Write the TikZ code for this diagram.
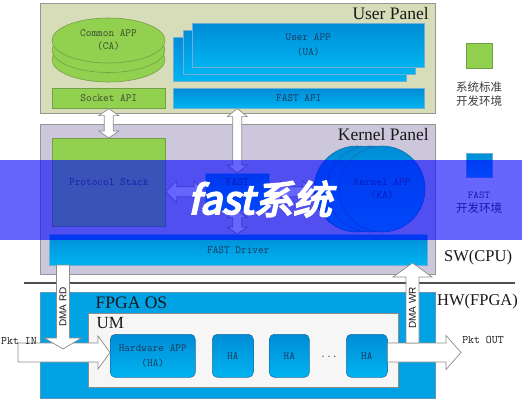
\documentclass[tikz,border=0pt]{standalone}
\usepackage{fontspec}
\setmainfont{Liberation Serif}
\setsansfont{Liberation Sans}
\newfontfamily\cjk{Noto Sans CJK SC}
\newfontfamily\bannerfont[FakeBold=5,FakeSlant=0.22]{Noto Sans CJK SC}
\usetikzlibrary{shapes.geometric,calc}

\definecolor{userbg}{RGB}{215,221,184}
\definecolor{kernelbg}{RGB}{205,199,220}
\definecolor{panelline}{RGB}{150,150,150}
\definecolor{appgreen}{RGB}{146,208,80}
\definecolor{greenline}{RGB}{115,160,70}
\definecolor{greentext}{RGB}{60,75,45}
\definecolor{bluetop}{RGB}{0,140,215}
\definecolor{bluebot}{RGB}{0,180,240}
\definecolor{blueline}{RGB}{110,175,215}
\definecolor{bluetext}{RGB}{30,55,90}
\definecolor{haline}{RGB}{30,110,170}
\definecolor{fpgablue}{RGB}{0,162,228}
\definecolor{fpgaline}{RGB}{90,150,190}
\definecolor{umfill}{RGB}{246,246,246}
\definecolor{arrowline}{RGB}{140,140,140}
\definecolor{titletext}{RGB}{25,25,25}
\definecolor{legendtext}{RGB}{60,60,60}

\newcommand{\vdblock}[5]{% top, bottom, shaft half, head half, head length
\draw[blockarrow] (#1) -- ([shift={(#4,#5)}]#1) -- ([shift={(#3,#5)}]#1) -- ([shift={(#3,-#5)}]#2) -- ([shift={(#4,-#5)}]#2) -- (#2) -- ([shift={(-#4,-#5)}]#2) -- ([shift={(-#3,-#5)}]#2) -- ([shift={(-#3,#5)}]#1) -- ([shift={(-#4,#5)}]#1) -- cycle;}
\newcommand{\hdblock}[5]{% left, right, shaft half, head half, head length
\draw[blockarrow] (#1) -- ([shift={(#5,-#4)}]#1) -- ([shift={(#5,-#3)}]#1) -- ([shift={(-#5,-#3)}]#2) -- ([shift={(-#5,-#4)}]#2) -- (#2) -- ([shift={(-#5,#4)}]#2) -- ([shift={(-#5,#3)}]#2) -- ([shift={(#5,#3)}]#1) -- ([shift={(#5,#4)}]#1) -- cycle;}
\newcommand{\downblock}[5]{% tail, tip
\draw[blockarrow] ([shift={(-#3,0)}]#1) -- ([shift={(#3,0)}]#1) -- ([shift={(#3,-#5)}]#2) -- ([shift={(#4,-#5)}]#2) -- (#2) -- ([shift={(-#4,-#5)}]#2) -- ([shift={(-#3,-#5)}]#2) -- cycle;}
\newcommand{\upblock}[5]{% tail, tip
\draw[blockarrow] ([shift={(-#3,0)}]#1) -- ([shift={(#3,0)}]#1) -- ([shift={(#3,#5)}]#2) -- ([shift={(#4,#5)}]#2) -- (#2) -- ([shift={(-#4,#5)}]#2) -- ([shift={(-#3,#5)}]#2) -- cycle;}
\newcommand{\rightblock}[5]{% tail, tip
\draw[blockarrow] ([shift={(0,-#3)}]#1) -- ([shift={(-#5,-#3)}]#2) -- ([shift={(-#5,-#4)}]#2) -- (#2) -- ([shift={(-#5,#4)}]#2) -- ([shift={(-#5,#3)}]#2) -- ([shift={(0,#3)}]#1) -- cycle;}

\tikzset{
  panel/.style={draw=panelline, line width=0.8pt, inner sep=0pt, anchor=north west},
  gbox/.style={draw=greenline, fill=appgreen, line width=0.6pt, inner sep=0pt, anchor=north west,
    font=\fontsize{11}{13}\ttfamily, text=greentext, align=center},
  bbox/.style={draw=blueline, top color=bluetop, bottom color=bluebot, line width=0.6pt, inner sep=0pt,
    anchor=north west, font=\fontsize{11}{15}\ttfamily, text=bluetext, align=center},
  habox/.style={bbox, draw=haline, rounded corners=5pt, minimum height=43},
  blockarrow/.style={draw=arrowline, fill=white, line width=0.7pt, line join=miter},
  title/.style={font=\fontsize{17.5}{20}\selectfont, text=titletext, inner sep=0pt},
  side/.style={font=\fontsize{16.5}{18}\selectfont, text=titletext, inner sep=0pt, anchor=base west},
  small/.style={font=\fontsize{11.5}{13}\ttfamily, text=titletext, inner sep=0pt},
  legend/.style={font=\cjk\fontsize{11.5}{14}\selectfont, text=legendtext, inner sep=0pt},
  vlabel/.style={font=\sffamily\fontsize{10}{12}\selectfont, text=titletext, rotate=90, inner sep=0pt},
}

\begin{document}
\begin{tikzpicture}[x=1pt,y=-1pt]
\useasboundingbox (0,0) rectangle (522,400);
\fill[white] (0,0) rectangle (522,400);

% ---------------- User panel
\node[panel, fill=userbg, minimum width=395, minimum height=110] (user) at (40,3) {};
\node[title, anchor=base east] (usert) at (429,19.5) {User Panel};
\node[ellipse, draw=greenline, fill=appgreen, line width=0.6pt, minimum width=113, minimum height=45, inner sep=0pt] (ca3) at (108.5,59.5) {};
\node[ellipse, draw=greenline, fill=appgreen, line width=0.6pt, minimum width=113, minimum height=45, inner sep=0pt] (ca2) at (108.5,50) {};
\node[ellipse, draw=greenline, fill=appgreen, line width=0.6pt, minimum width=113, minimum height=45, inner sep=0pt,
  font=\fontsize{11}{13}\ttfamily, text=greentext, align=center] (ca) at (108.5,40.5) {Common APP\\(CA)};
\node[bbox, minimum width=233, minimum height=44] (ua3) at (173,37) {};
\node[bbox, minimum width=232, minimum height=44] (ua2) at (183,30) {};
\node[bbox, minimum width=232, minimum height=44] (ua) at (192,23) {User APP\\(UA)};
\node[gbox, minimum width=113, minimum height=20] (sock) at (52,88) {Socket API};
\node[bbox, minimum width=251, minimum height=20] (fastapi) at (173,88) {FAST API};

% legend
\node[draw=greenline, fill=appgreen, line width=0.6pt, minimum width=26, minimum height=25, inner sep=0pt, anchor=north west] (lg1) at (466,43) {};
\node[legend, align=center] (lg1t) at (479,94) {系统标准\\开发环境};
\node[bbox, minimum width=26, minimum height=24] (lg2) at (466,153) {};
\node[legend, align=center] (lg2t) at (479,203) {\fontsize{10.5}{14}\ttfamily FAST\\开发环境};

% ---------------- Kernel panel
\node[panel, fill=kernelbg, minimum width=395, minimum height=150] (kern) at (40,124) {};
\node[title, anchor=base east] (kernt) at (429,140.5) {Kernel Panel};
\node[gbox, minimum width=113, minimum height=88] (ps) at (52,138) {Protocol Stack};
\node[bbox, minimum width=64, minimum height=37] (fastmod) at (205,173) {};
\node[font=\fontsize{11}{13}\ttfamily, text=bluetext, inner sep=0pt] (fastmodt) at ([yshift=-9pt]fastmod.north) {FAST};
\node[circle, draw=haline, top color=bluetop, bottom color=bluebot, line width=0.6pt, minimum size=86, inner sep=0pt] (ka1) at (357,189) {};
\node[circle, draw=haline, top color=bluetop, bottom color=bluebot, line width=0.6pt, minimum size=86, inner sep=0pt] (ka2) at (370,189) {};
\node[circle, draw=haline, top color=bluetop, bottom color=bluebot, line width=0.6pt, minimum size=86, inner sep=0pt,
  font=\fontsize{11}{13}\ttfamily, text=bluetext, align=center] (ka) at (382,189) {Kernel APP\\(KA)};
\node[bbox, minimum width=378, minimum height=31] (drv) at (49,234) {FAST Driver};

% arrows in the software part
\coordinate (a1t) at (sock.south);
\coordinate (a1b) at (ps.north);
\vdblock{a1t}{a1b}{4.5}{10}{7}
\coordinate (a2t) at (fastmod.north |- fastapi.south);
\coordinate (a2b) at (fastmod.north);
\vdblock{a2t}{a2b}{4.5}{10}{8}
\coordinate (a3t) at (fastmod.south);
\coordinate (a3b) at (fastmod.south |- drv.north);
\vdblock{a3t}{a3b}{4.5}{10}{7}
\coordinate (h1l) at (ps.east |- fastmod.west);
\coordinate (h1r) at (fastmod.west);
\hdblock{h1l}{h1r}{5}{11}{11}
\coordinate (h2l) at (fastmod.east);
\coordinate (h2r) at (ka1.west |- fastmod.east);
\hdblock{h2l}{h2r}{5}{11}{11}

% separator and side labels
\draw[line width=1.1pt, draw={rgb,255:red,80;green,80;blue,80}] (24,283) -- (515,283);
\node[side] (sw) at (444,261.5) {SW(CPU)};
\node[side] (hw) at (437,305) {HW(FPGA)};

% ---------------- FPGA OS
\node[panel, draw=fpgaline, fill=fpgablue, minimum width=395, minimum height=106] (fpga) at (40,292) {};
\node[title, anchor=base west] (fpgat) at (95.5,308) {FPGA OS};
\node[panel, fill=umfill, draw=arrowline, minimum width=310, minimum height=74] (um) at (88,313) {};
\node[title, anchor=base west, font=\fontsize{17}{20}\selectfont] (umt) at (96.5,328) {UM};
\node[habox, minimum width=85] (hwapp) at (110,334) {Hardware APP\\(HA)};
\node[habox, minimum width=41] (ha1) at (212,334) {HA};
\node[habox, minimum width=40] (ha2) at (269,334) {HA};
\node[small, text=bluetext] (dots) at (329,357) {...};
\node[habox, minimum width=41] (ha3) at (346,334) {HA};

% packet / DMA arrows
\coordinate (pinA) at (18,352.5);
\coordinate (pinB) at (hwapp.west |- pinA);
\rightblock{pinA}{pinB}{9.5}{16.5}{12}
\coordinate (rdA) at (63,265);
\coordinate (rdB) at (63,349);
\downblock{rdA}{rdB}{6.5}{18.5}{11}
\coordinate (poutA) at (ha3.east |- 0,352.5);
\coordinate (poutB) at (461,352.5);
\rightblock{poutA}{poutB}{9.5}{17}{15}
\coordinate (wrA) at (412.5,343);
\coordinate (wrB) at (412.5,263);
\upblock{wrA}{wrB}{6.5}{19.5}{14}
\node[vlabel] (rdt) at (63,307) {DMA RD};
\node[vlabel] (wrt) at (412.5,308) {DMA WR};
\node[small] (pint) at (19,341) {Pkt IN};
\node[small] (poutt) at (483,340) {Pkt OUT};

% ---------------- overlay banner
\fill[blue, opacity=0.6] (0,160) rectangle (522,240);
\node[text=white, font=\bannerfont\fontsize{39}{42}\selectfont, inner sep=0pt] (banner) at (260,199) {fast系统};
\end{tikzpicture}
\end{document}
